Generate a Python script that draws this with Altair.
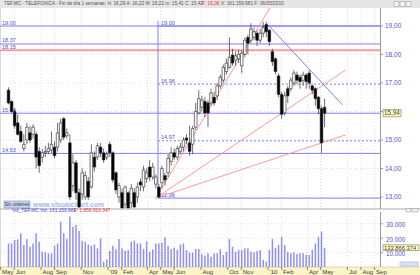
import altair as alt
import pandas as pd

# ---------------- data ----------------
first_week = "2008-05-19"
opens = [16.75, 16.35, 16.00, 15.60, 15.30, 14.70, 15.00, 15.25, 15.20, 15.20,
         14.60, 14.40, 14.55, 14.60, 14.65, 14.75, 14.75, 15.00, 15.75, 15.15,
         14.90, 13.40, 14.20, 13.15, 13.10, 13.00, 13.55, 13.35, 14.40, 14.40,
         14.75, 14.55, 14.40, 14.85, 14.55, 13.85, 13.00, 13.15, 12.75, 13.15,
         12.80, 13.15, 13.00, 13.53, 13.35, 13.65, 14.05, 13.70, 13.45, 13.35,
         13.50, 13.75, 13.85, 14.25, 14.55, 14.40, 14.60, 14.75, 15.07, 14.90,
         14.85, 15.45, 15.95, 16.15, 16.35, 16.30, 16.30, 16.50, 16.55, 16.90,
         17.10, 17.40, 17.55, 17.98, 17.80, 17.85, 17.60, 18.00, 18.60, 18.50,
         18.60, 18.75, 18.50, 18.75, 19.05, 18.85, 18.10, 17.85, 17.25, 16.60,
         15.95, 16.80, 16.80, 17.00, 17.28, 17.20, 17.10, 17.28, 17.35, 16.90,
         16.80, 16.50, 16.10, 16.15]
highs = [16.85, 16.40, 16.10, 15.90, 15.50, 15.20, 15.60, 15.50, 15.55, 15.30,
         14.75, 14.70, 14.80, 14.90, 15.30, 14.95, 15.60, 15.75, 15.80, 15.40,
         15.20, 14.50, 14.30, 13.30, 14.00, 13.90, 13.70, 14.85, 14.60, 14.90,
         14.90, 14.70, 14.60, 14.95, 14.60, 13.90, 13.50, 13.30, 13.40, 13.20,
         13.45, 13.30, 13.50, 13.65, 14.10, 14.00, 14.30, 14.20, 13.80, 13.45,
         14.10, 13.85, 14.50, 14.75, 14.70, 14.80, 14.90, 15.10, 15.20, 15.50,
         15.50, 16.30, 16.75, 16.55, 16.50, 16.40, 16.80, 16.70, 17.00, 17.30,
         17.65, 17.85, 18.60, 18.20, 18.10, 18.15, 18.15, 18.60, 18.70, 19.10,
         18.95, 18.85, 18.90, 19.15, 19.15, 18.90, 18.20, 17.90, 17.35, 16.70,
         16.70, 16.90, 17.20, 17.45, 17.40, 17.30, 17.40, 17.35, 17.45, 16.95,
         16.85, 16.55, 16.20, 16.45]
lows = [16.25, 15.95, 15.40, 15.15, 14.90, 14.60, 14.85, 14.90, 15.05, 14.00,
        13.85, 14.20, 14.40, 14.50, 14.55, 14.35, 14.60, 14.90, 15.00, 15.05,
        12.90, 13.20, 12.90, 12.50, 12.90, 12.90, 12.90, 13.30, 13.90, 14.30,
        14.40, 14.20, 14.30, 14.40, 13.50, 13.10, 12.80, 12.40, 12.60, 12.40,
        12.60, 12.50, 12.80, 13.20, 13.20, 13.50, 13.55, 13.60, 13.30, 12.96,
        13.30, 13.40, 13.70, 14.10, 14.30, 14.30, 14.50, 14.60, 14.85, 14.45,
        14.50, 15.35, 15.90, 16.00, 15.80, 15.45, 16.20, 16.20, 16.40, 16.80,
        17.00, 17.30, 17.50, 17.60, 17.60, 17.70, 17.35, 17.90, 18.00, 18.40,
        18.50, 18.30, 18.40, 18.60, 18.60, 18.30, 17.60, 17.30, 16.50, 15.75,
        15.85, 16.30, 16.70, 16.90, 16.95, 16.80, 16.90, 16.80, 16.80, 16.60,
        16.20, 15.90, 14.55, 15.45]
closes = [16.30, 16.00, 15.50, 15.20, 14.95, 14.85, 15.45, 15.00, 15.45, 14.40,
          14.10, 14.55, 14.60, 14.70, 14.85, 14.45, 15.25, 15.60, 15.10, 15.25,
          13.00, 14.20, 13.15, 12.65, 13.85, 13.75, 13.00, 14.55, 14.05, 14.80,
          14.55, 14.30, 14.50, 14.55, 13.60, 13.25, 13.40, 12.60, 13.35, 12.60,
          13.30, 12.65, 13.35, 13.42, 13.95, 13.85, 13.70, 14.05, 13.70, 13.00,
          14.00, 13.60, 14.35, 14.55, 14.40, 14.70, 14.75, 15.00, 15.00, 14.60,
          15.40, 16.00, 16.45, 16.40, 15.95, 15.95, 16.65, 16.30, 16.90, 17.20,
          17.55, 17.70, 17.90, 17.70, 17.95, 18.00, 18.05, 18.50, 18.40, 18.90,
          18.80, 18.50, 18.75, 18.95, 18.80, 18.45, 17.75, 17.40, 16.60, 15.90,
          16.55, 16.55, 17.10, 17.35, 17.10, 17.05, 17.28, 17.05, 17.00, 16.75,
          16.45, 16.10, 14.90, 15.94]
volumes = [16400, 16400, 18750, 19200, 23400, 15300, 19400, 14100, 16400, 23400,
           17600, 10600, 10200, 9500, 9500, 14800, 16400, 31500, 23400, 19400,
           35000, 28000, 29200, 25000, 18300, 17600, 15700, 14800, 15700, 13000,
           19900, 3700, 5300, 11300, 14800, 12300, 19400, 13000, 11300, 11800,
           17600, 18300, 16400, 16400, 12500, 17600, 10600, 12300, 16400, 16400,
           17100, 20600, 14600, 12300, 13400, 11800, 15700, 16400, 11800, 10000,
           10000, 12500, 12500, 8800, 7900, 9500, 7200, 9500, 9500, 12300,
           8300, 10600, 19400, 14100, 10600, 11800, 11800, 13000, 13000, 10600,
           10000, 11100, 11800, 4900, 3700, 11800, 19400, 13400, 15300, 21000,
           15300, 10600, 9500, 10200, 9000, 9500, 9500, 8300, 8300, 11800,
           16400, 21000, 24500, 13387]

price_ticks = [13, 14, 15, 16, 17, 18, 19]
price_tick_labels = ["13,00", "14,00", "15,00", "", "17,00", "18,00", "19,00"]
volume_ticks = [10000, 20000, 30000]
volume_tick_labels = ["10.000", "20.000", "30.000"]
month_ticks = ["2008-05-01", "2008-06-01", "2008-08-01", "2008-09-01", "2008-11-01",
               "2009-01-01", "2009-02-01", "2009-04-01", "2009-05-01", "2009-06-01",
               "2009-08-01", "2009-10-01", "2009-11-01", "2010-01-01", "2010-02-01",
               "2010-04-01", "2010-05-01", "2010-07-01", "2010-08-01", "2010-09-01"]
month_labels = ["May", "Jun", "Aug", "Sep", "Nov", "'09", "Feb", "Apr", "May", "Jun",
                "Aug", "Oct", "Nov", "'10", "Feb", "Apr", "May", "Jul", "Aug", "Sep"]
view_start, view_end = "2008-05-11", "2010-09-02"

# full-width horizontal levels
level_prices = [19.00, 18.37, 18.15, 15.94, 14.53]
level_labels = ["19.00", "18.37", "18.15", "15.94", "14.53"]
level_kind = ["blue", "blue", "red", "blue", "blue"]
# speed-line levels starting at the 2009 low
speed_start = "2009-04-25"
speed_prices = [19.00, 16.96, 14.97, 12.96]
speed_labels = ["19.00", "16.96", "14.97", "12.96"]
speed_dash = [False, True, True, False]
vline_top = 19.18
# fan lines (red) and trend line (blue): id, date, price
fan_id = ["a", "a", "b", "b", "c", "c", "d", "d"]
fan_date = ["2009-04-20", "2010-01-05", "2009-04-20", "2010-06-27",
            "2009-04-20", "2010-06-27", "2010-01-01", "2010-06-20"]
fan_price = [12.96, 19.63, 12.96, 17.46, 12.96, 15.18, 19.04, 16.23]
fan_color = ["red", "red", "red", "red", "red", "red", "blue", "blue"]

last_price = 15.94
last_price_label = "15,94"
last_volume_label = "133.866.374"
last_volume = 13387

# ---------------- helpers ----------------
t0 = pd.Timestamp(first_week)
def wk(d):
    """week offset of a calendar date from the first bar"""
    return (pd.Timestamp(d) - t0).days / 7.0

BLUE = "#8080fa"
RED = "#ff9a9a"
LBL = "#5050d8"
GRID = "#d6d6d6"
FONT = "Liberation Sans"

XS = alt.Scale(domain=[wk(view_start), wk(view_end)], range=[0, 380], nice=False, zero=False)
YS = alt.Scale(domain=[12.614, 19.632], range=[208, 8], clamp=True, nice=False, zero=False)
VS = alt.Scale(domain=[0, 37500], range=[267, 213], nice=False)

df = pd.DataFrame({"w": list(range(len(opens))),
                   "open": opens, "high": highs, "low": lows, "close": closes,
                   "volume": volumes})

X = alt.X("w:Q", scale=XS, axis=None)

# ---------------- price panel ----------------
pgrid = alt.Chart(pd.DataFrame({"p": price_ticks})).mark_rule(
    color=GRID, strokeWidth=0.8, strokeDash=[1, 2]).encode(
    y=alt.Y("p:Q", scale=YS, axis=None), x=alt.value(0), x2=alt.value(380))

mdf = pd.DataFrame({"w": [wk(m) for m in month_ticks], "label": month_labels})
vgrid_p = alt.Chart(mdf).mark_rule(color=GRID, strokeWidth=0.8, strokeDash=[1, 2]).encode(
    x=X, y=alt.value(8), y2=alt.value(208))

ldf = pd.DataFrame({"p": level_prices, "label": level_labels, "kind": level_kind})
levels = alt.Chart(ldf).mark_rule().encode(
    y=alt.Y("p:Q", scale=YS, axis=None), x=alt.value(0), x2=alt.value(380),
    color=alt.Color("kind:N", scale=alt.Scale(domain=["blue", "red"], range=[BLUE, RED]), legend=None),
    strokeWidth=alt.condition("datum.kind == 'red'", alt.value(2), alt.value(1)))
level_txt = alt.Chart(ldf).mark_text(align="left", baseline="bottom", dy=-0.5, fontSize=5.5,
                                     font=FONT, color=LBL).encode(
    y=alt.Y("p:Q", scale=YS, axis=None), x=alt.value(2), text="label:N")

sdf = pd.DataFrame({"w": wk(speed_start), "p": speed_prices, "label": speed_labels,
                    "dash": speed_dash})
speed_solid = alt.Chart(sdf).transform_filter("!datum.dash").mark_rule(color=BLUE, strokeWidth=1).encode(
    x=X, x2=alt.value(380), y=alt.Y("p:Q", scale=YS, axis=None))
speed_dot = alt.Chart(sdf).transform_filter("datum.dash").mark_rule(
    color=BLUE, strokeWidth=1, strokeDash=[2, 2]).encode(
    x=X, x2=alt.value(380), y=alt.Y("p:Q", scale=YS, axis=None))
speed_txt = alt.Chart(sdf).mark_text(align="left", baseline="bottom", dx=3, dy=-0.5, fontSize=5.5,
                                     font=FONT, color=LBL).encode(
    x=X, y=alt.Y("p:Q", scale=YS, axis=None), text="label:N")
vline = alt.Chart(pd.DataFrame({"w": [wk(speed_start)], "lo": [min(speed_prices)], "hi": [vline_top]})).mark_rule(
    color=BLUE, strokeWidth=1).encode(x=X, y=alt.Y("lo:Q", scale=YS, axis=None), y2="hi:Q")

fdf = pd.DataFrame({"id": fan_id, "w": [wk(d) for d in fan_date], "p": fan_price, "kind": fan_color})
fans = alt.Chart(fdf).mark_line(strokeWidth=1).encode(
    x=X, y=alt.Y("p:Q", scale=YS, axis=None), detail="id:N",
    color=alt.Color("kind:N", scale=alt.Scale(domain=["blue", "red"], range=["#9a9af4", "#ff8a8a"]),
                    legend=None))

wicks = alt.Chart(df).mark_rule(color="#333333", strokeWidth=0.7).encode(
    x=X, y=alt.Y("low:Q", scale=YS, axis=None), y2="high:Q")
bodies = alt.Chart(df).mark_bar(size=2.6, stroke="#222222", strokeWidth=0.6).encode(
    x=X, y=alt.Y("open:Q", scale=YS, axis=None), y2="close:Q",
    fill=alt.condition("datum.close >= datum.open", alt.value("white"), alt.value("black")))

ptick = alt.Chart(pd.DataFrame({"p": price_ticks, "label": price_tick_labels}))
ptick_marks = ptick.mark_rule(color="#8080c0", strokeWidth=0.8).encode(
    y=alt.Y("p:Q", scale=YS, axis=None), x=alt.value(380), x2=alt.value(383))
ptick_txt = ptick.mark_text(align="left", baseline="middle", fontSize=6.5, font=FONT, color=LBL).encode(
    y=alt.Y("p:Q", scale=YS, axis=None), x=alt.value(385), text="label:N")

lp = pd.DataFrame({"hi": [last_price + 0.125], "lo": [last_price - 0.125], "p": [last_price],
                   "label": [last_price_label]})
lp_box = alt.Chart(lp).mark_rect(fill="#ffffc4", stroke="#707040", strokeWidth=0.6).encode(
    y=alt.Y("hi:Q", scale=YS, axis=None), y2="lo:Q", x=alt.value(383), x2=alt.value(401))
lp_txt = alt.Chart(lp).mark_text(align="left", baseline="middle", fontSize=6.3, font=FONT,
                                 color="#404040").encode(
    y=alt.Y("p:Q", scale=YS, axis=None), x=alt.value(384), text="label:N")

price_panel = alt.layer(pgrid, vgrid_p, levels, level_txt, speed_solid, speed_dot, vline,
                        speed_txt, fans, wicks, bodies, ptick_marks, ptick_txt, lp_box, lp_txt)

# ---------------- volume panel ----------------
vgrid_h = alt.Chart(pd.DataFrame({"v": volume_ticks, "label": volume_tick_labels}))
vgh = vgrid_h.mark_rule(color=GRID, strokeWidth=0.8, strokeDash=[1, 2]).encode(
    y=alt.Y("v:Q", scale=VS, axis=None), x=alt.value(0), x2=alt.value(380))
vgh_txt = vgrid_h.mark_text(align="left", baseline="middle", dy=1.5, fontSize=6.3, font=FONT,
                            color=LBL).encode(
    y=alt.Y("v:Q", scale=VS, axis=None), x=alt.value(386), text="label:N")
vgh_tick = vgrid_h.mark_rule(color="#8080c0", strokeWidth=0.8).encode(
    y=alt.Y("v:Q", scale=VS, axis=None), x=alt.value(380), x2=alt.value(383))
vgrid_v = alt.Chart(mdf).mark_rule(color=GRID, strokeWidth=0.8, strokeDash=[1, 2]).encode(
    x=X, y=alt.value(213), y2=alt.value(266))
vbars = alt.Chart(df).mark_bar(size=1.5, color="#8f8ff6").encode(
    x=X, y=alt.Y("volume:Q", scale=VS, axis=None))
lv = pd.DataFrame({"hi": [last_volume + 2000], "lo": [last_volume - 2000], "v": [last_volume],
                   "label": [last_volume_label]})
lv_box = alt.Chart(lv).mark_rect(fill="#ffffc4", stroke="#707040", strokeWidth=0.6).encode(
    y=alt.Y("hi:Q", scale=VS, axis=None), y2="lo:Q", x=alt.value(383), x2=alt.value(419))
lv_txt = alt.Chart(lv).mark_text(align="left", baseline="middle", fontSize=5.8, font=FONT,
                                 color="#404040").encode(
    y=alt.Y("v:Q", scale=VS, axis=None), x=alt.value(384), text="label:N")

volume_panel = alt.layer(vgh, vgrid_v, vbars, vgh_tick, vgh_txt, lv_box, lv_txt)

# ---------------- frame, headers, x labels ----------------
one = pd.DataFrame({"k": [0]})
def box(x, x2, y, y2, fill, stroke="none", sw=0):
    return alt.Chart(one).mark_rect(fill=fill, stroke=stroke, strokeWidth=sw).encode(
        x=alt.value(x), x2=alt.value(x2), y=alt.value(y), y2=alt.value(y2))
def txt(s, x, y, color, size=5.0, weight="normal", align="left"):
    return alt.Chart(one).mark_text(text=s, align=align, baseline="middle", fontSize=size,
                                    font=FONT, color=color, fontWeight=weight).encode(
        x=alt.value(x), y=alt.value(y))
def hline(x, x2, y, color, sw=1):
    return alt.Chart(one).mark_rule(color=color, strokeWidth=sw).encode(
        x=alt.value(x), x2=alt.value(x2), y=alt.value(y))
def vln(x, y, y2, color, sw=1):
    return alt.Chart(one).mark_rule(color=color, strokeWidth=sw).encode(
        x=alt.value(x), y=alt.value(y), y2=alt.value(y2))

frame = alt.layer(
    box(0, 420, 0, 8, "#e6e6e6"),
    txt("TEF.MC - TELEFONICA - Fin de día 1 semanas: H: 16,29 A: 16,22 M: 16,22 m: 15,41 C: 15,42",
        4, 4.2, "#505050", 4.75),
    txt("F: 16,06", 202, 4.2, "#e03030", 4.75),
    txt("V: 161.159.981  F: 06/05/2010", 221, 4.2, "#505050", 4.75),
    box(394, 399, 1.5, 6.5, "#f4f4f4", "#909090", 0.5),
    box(400, 405, 1.5, 6.5, "#f4f4f4", "#909090", 0.5),
    box(406, 411, 1.5, 6.5, "#f4f4f4", "#909090", 0.5),
    vln(380.5, 8, 209, "#9a9a9a"),
    hline(0, 420, 209, "#a8a8a8"),
    box(4, 30, 201, 208, "#c9d5ea", "#7e8fb5", 0.6),
    txt("Sin órdenes", 17, 204.6, "#303060", 4.6, align="center"),
    txt("www.visualchart.com", 33, 204.5, "#aab4f2", 7, "bold"),
    txt("Vol_TEF.MC  Vol: 161.159.981", 12, 210.8, "#4a4ad6", 4.8),
    txt("F: 1.856.910.347", 74, 210.8, "#e03030", 4.8),
    vln(380.5, 212, 267, "#9a9a9a"),
    box(406, 411, 208.5, 212, "#f4f4f4", "#909090", 0.5),
    box(412, 418, 208.5, 212, "#f4f4f4", "#909090", 0.5),
    box(0, 420, 267, 275, "#fbf4c6"),
    hline(0, 420, 267, "#c8c0a0", 0.6),
    box(400, 418, 262, 266, "#dfe3f8", "#8c96d8", 0.5),
)
xt = alt.Chart(mdf)
xticks = xt.mark_rule(color="#555555", strokeWidth=0.7).encode(x=X, y=alt.value(267), y2=alt.value(270))
xlabels = xt.mark_text(align="left", baseline="middle", dx=1.5, fontSize=6, font=FONT,
                       color="#404040").encode(x=X, y=alt.value(271.5), text="label:N")

chart = alt.layer(frame, price_panel, volume_panel, xticks, xlabels).resolve_scale(
    y="independent", color="independent"
).properties(
    width=420, height=275, padding=0, autosize=alt.AutoSizeParams(type="none")
).configure_view(strokeWidth=0).configure(background="white")

chart.save("out.html", embed_options={"renderer": "svg", "actions": False})
